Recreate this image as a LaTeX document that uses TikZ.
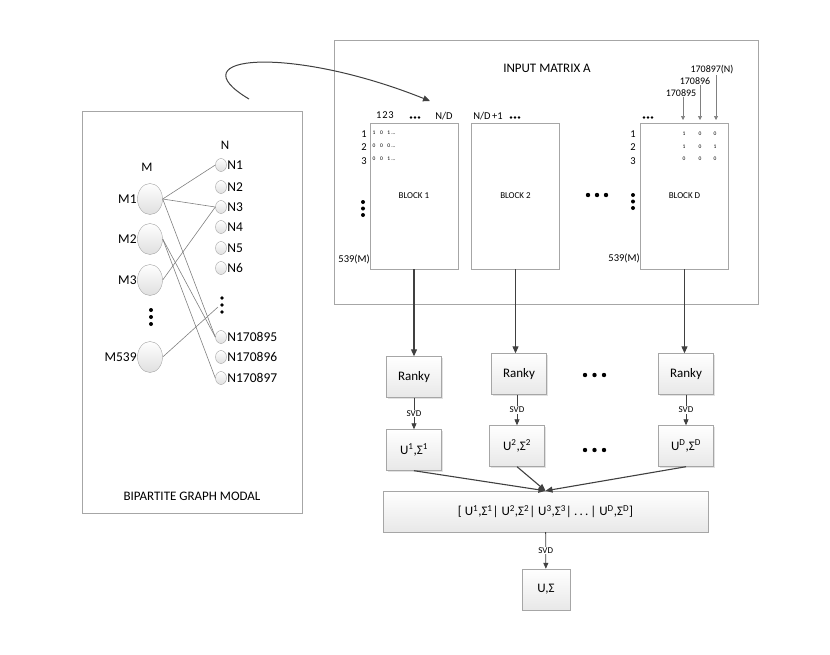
\documentclass[tikz,border=0pt]{standalone}
\usepackage{fontspec}
\setmainfont{Carlito}
\usetikzlibrary{arrows.meta,positioning,shapes.geometric,shadows}
\definecolor{ink}{HTML}{404040}
\definecolor{edgegray}{HTML}{808080}
\definecolor{framegray}{HTML}{A6A6A6}
\newcommand{\cellrow}[3]{#1\hspace{4.6pt}#2\hspace{4.6pt}#3\hspace{1pt}...}
\tikzset{>=Latex,
  every node/.style={font=\fontsize{13}{15}\selectfont,inner sep=1pt},
  frame/.style={draw=framegray,line width=.9pt,inner sep=0pt},
  block/.style={frame,minimum width=88pt,minimum height=146pt,font=\fontsize{9}{10}\selectfont},
  mnode/.style={ellipse,draw=framegray,top color=white,bottom color=gray!25,minimum width=25pt,minimum height=31pt,inner sep=0pt},
  nnode/.style={mnode,minimum width=11pt,minimum height=13pt},
  lbl/.style={font=\fontsize{13.5}{15}\selectfont,inner sep=.5pt},
  edge/.style={draw=edgegray,line width=.6pt},
  flow/.style={draw=ink,line width=1.1pt,-{Triangle[length=7pt,width=6pt]}},
  svdflow/.style={draw=ink,line width=.8pt,-{Triangle[length=6pt,width=5pt]}},
  stepbox/.style={draw=framegray,top color=white,bottom color=gray!18,
    drop shadow={shadow xshift=1.2pt,shadow yshift=-1.2pt,fill=gray!45},
    minimum width=55pt,minimum height=41pt,inner sep=0pt},
  svd/.style={fill=white,font=\fontsize{9}{10}\selectfont,inner sep=1pt},
  idx/.style={font=\fontsize{10.5}{12}\selectfont,inner sep=0pt},
  cell/.style={font=\fontsize{5.5}{6}\selectfont,inner sep=0pt},
  coltag/.style={font=\fontsize{10}{11}\selectfont,inner sep=.5pt},
  colarrow/.style={draw=gray,line width=.6pt,-{Triangle[length=4pt,width=4pt]}}}
\begin{document}
\begin{tikzpicture}[x=1pt,y=-1pt]
\useasboundingbox (0,0) rectangle (830,654);
% bipartite graph
\node[frame,minimum width=220pt,minimum height=402pt] (graphbox) at (192,312) {};
\node (mhead) at (147,167) {M};\node (nhead) at (225,145) {N};
\foreach \y/\lab in {199/1,239/2,280/3,357/539}
  \node[mnode,label={[lbl]left:M\lab}] (m\lab) at (150,\y) {};
\foreach \y/\lab in {165/1,187/2,207/3,227/4,248/5,268/6,337/170895,357/170896,378/170897}
  \node[nnode,label={[lbl]right:N\lab}] (n\lab) at (221,\y) {};
\foreach \y in {310,317,324}\fill (151,\y) circle (2pt);
\foreach \y in {298,305,312}\fill (222,\y) circle (1.8pt);
\coordinate (ndots) at (218,307);
\draw[edge] (m1.east)--(n1.west);\draw[edge] (m1.east)--(n3.west);\draw[edge] (m1.east)--(n170895.west);
\draw[edge] (m2.east)--(n170895.west);\draw[edge] (m2.east)--(n170897.west);
\draw[edge] (m3.east)--(n3.west);\draw[edge] (m539.east)--(ndots);
\node (graphtitle) at (192,496) {BIPARTITE GRAPH MODAL};
% input matrix
\node[frame,minimum width=424pt,minimum height=264pt] (inbox) at (546,172) {};
\node (mattitle) at (547,68) {INPUT MATRIX A};
\node[block] (b1) at (414,196) {BLOCK 1};
\node[block] (b2) at (515.5,196) {BLOCK 2};
\node[block] (bd) at (684.5,196) {BLOCK D};
\coordinate (cstart) at (249,99);\coordinate (cend) at (430,101);
\draw[flow,line width=1pt] (cstart) .. controls (175,55) and (290,45) .. (cend);
\node[idx] (colb1) at (385,115) {1\hspace{.8pt}2\hspace{.8pt}3};
\node[idx] (ndb1) at (444,116) {N/D};\node[idx] (ndb2) at (488,116) {N/D\hspace{1.5pt}+1};
\foreach \x in {411,415,419,511,515,519,644,648,652}\fill (\x,117.5) circle (1.4pt);
\foreach \y [count=\i] in {134,147,161}{\node[idx] (ra\i) at (364,\y) {\i};\node[idx] (rd\i) at (633,\y) {\i};}
\foreach \y/\a/\b/\c [count=\i] in {133/1/0/1,146/0/0/0,159/0/0/1}
  \node[cell,anchor=west] (row\i) at (372.5,\y) {\cellrow\a\b\c};
\foreach \y/\a/\b/\c [count=\i] in {134/1/0/0,147/1/0/1,159/0/0/0}{
  \node[cell] (dc\i a) at (684,\y) {\a};\node[cell] (dc\i b) at (700,\y) {\b};\node[cell] (dc\i c) at (715,\y) {\c};}
\foreach \y in {202,208.5,215}\fill (363,\y) circle (2pt);
\foreach \y in {195,201.5,208}\fill (633,\y) circle (2pt);
\foreach \x in {588,597,606}\fill (\x,195) circle (2.2pt);
\node[idx,anchor=east] (mb1) at (370,259) {539(M)};
\node[idx,anchor=east] (mbd) at (640,258) {539(M)};
\node[coltag] (c895) at (681,93) {170895};
\node[coltag] (c896) at (695,81) {170896};
\node[coltag] (c897) at (712,70) {170897(N)};
\coordinate (col1) at (683,120);\coordinate (col2) at (700,120);\coordinate (col3) at (716,120);
\draw[colarrow] (c895.south -| col1)--(col1);\draw[colarrow] (c896.south -| col2)--(col2);\draw[colarrow] (c897.south -| col3)--(col3);
% per block decomposition
\node[stepbox] (rk1) at (414,377) {Ranky};
\node[stepbox] (rk2) at (519,374) {Ranky};
\node[stepbox] (rkd) at (686,374) {Ranky};
\draw[flow] (b1.south)--(b1.south |- rk1.north);
\draw[flow] (b2.south)--(b2.south |- rk2.north);
\draw[flow] (bd.south)--(bd.south |- rkd.north);
\node[stepbox] (u1) at (414,450) {U\textsuperscript{1},Σ\textsuperscript{1}};
\node[stepbox] (u2) at (517,446) {U\textsuperscript{2},Σ\textsuperscript{2}};
\node[stepbox] (ud) at (686,446) {U\textsuperscript{D},Σ\textsuperscript{D}};
\draw[svdflow] (rk1)--node[svd]{SVD}(u1);
\draw[svdflow] (rk2.south -| u2)--node[svd]{SVD}(u2);
\draw[svdflow] (rkd)--node[svd]{SVD}(ud);
\foreach \x in {585,594.5,604}{\fill (\x,375) circle (2.2pt);\fill (\x,450) circle (2.2pt);}
\node[stepbox,minimum width=325pt] (cat) at (545.5,511.5)
  {[ U\textsuperscript{1},Σ\textsuperscript{1}| U\textsuperscript{2},Σ\textsuperscript{2}| U\textsuperscript{3},Σ\textsuperscript{3}|\,.\,.\,.\,| U\textsuperscript{D},Σ\textsuperscript{D}]};
\draw[flow] (u1.south)--(cat.north);\draw[flow] (u2.south)--(cat.north);\draw[flow] (ud.south)--(cat.north);
\node[stepbox,minimum width=48pt] (usig) at (546,589.5) {U,Σ};
\draw[svdflow] (cat)--node[svd]{SVD}(usig);
\end{tikzpicture}
\end{document}
